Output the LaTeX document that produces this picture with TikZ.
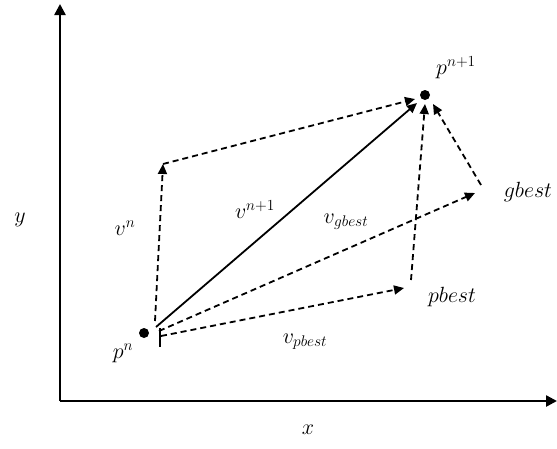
\RequirePackage{fix-cm}
\documentclass[tikz,border=0pt]{standalone}
\usetikzlibrary{arrows.meta}
\begin{document}
\begin{tikzpicture}[x=1pt,y=-1pt,
  tip/.style={-{Triangle[length=10pt,width=9pt]}},
  vec/.style={tip,line width=1.8pt,dash pattern=on 6pt off 4pt},
  solidvec/.style={tip,line width=1.8pt},
  axis/.style={-{Triangle[length=11pt,width=11pt]},line width=2.5pt},
  lbl/.style={font=\fontsize{22}{24}\selectfont}]
\useasboundingbox (0,0) rectangle (557,448);
% axes
\coordinate (o) at (60,401);
\coordinate (ytop) at (60,4);
\coordinate (xend) at (557,401);
\draw[axis] (o) -- (ytop);
\draw[axis] (o) -- (xend);
\node[lbl] (ylab) at (20,220) {$y$};
\node[lbl] (xlab) at (308,430) {$x$};
% points
\node[circle,fill,inner sep=0pt,minimum size=10pt] (pn) at (144,333) {};
\node[circle,fill,inner sep=0pt,minimum size=10pt] (pn1) at (425,95) {};
\node[lbl] (pnlab) at (123,353) {$p^{n}$};
\node[lbl] (pn1lab) at (456,68) {$p^{n+1}$};
\coordinate (vn) at (163,164);
\coordinate (gb) at (475,193);
\coordinate (pb) at (404,288);
\coordinate (s1) at (155,321);
\coordinate (s2) at (156,327);
\coordinate (s3) at (159,331);
\coordinate (s4) at (161,336);
\coordinate (n1) at (415,99);
\coordinate (n2) at (417,103);
\coordinate (n3) at (425,104);
\coordinate (n4) at (433,104);
\coordinate (gs) at (481,185);
\coordinate (ps) at (411,280);
\coordinate (t1) at (160,328);
\coordinate (t2) at (160,347);
% vectors
\draw[vec] (s1) -- (vn);
\draw[vec] (vn) -- (n1);
\draw[solidvec] (s2) -- (n2);
\draw[vec] (s3) -- (gb);
\draw[vec] (s4) -- (pb);
\draw[vec] (gs) -- (n4);
\draw[vec] (ps) -- (n3);
\draw[line width=1.2pt] (t1) -- (t2);
% labels
\node[lbl] (vnlab) at (125,228) {$v^{n}$};
\node[lbl] (vn1lab) at (255,210) {$v^{n+1}$};
\node[lbl] (vglab) at (346,222) {$v_{gbest}$};
\node[lbl] (vplab) at (305,342) {$v_{pbest}$};
\node[lbl] (pblab) at (452,297) {$pbest$};
\node[lbl] (gblab) at (528,192) {$gbest$};
\end{tikzpicture}
\end{document}
